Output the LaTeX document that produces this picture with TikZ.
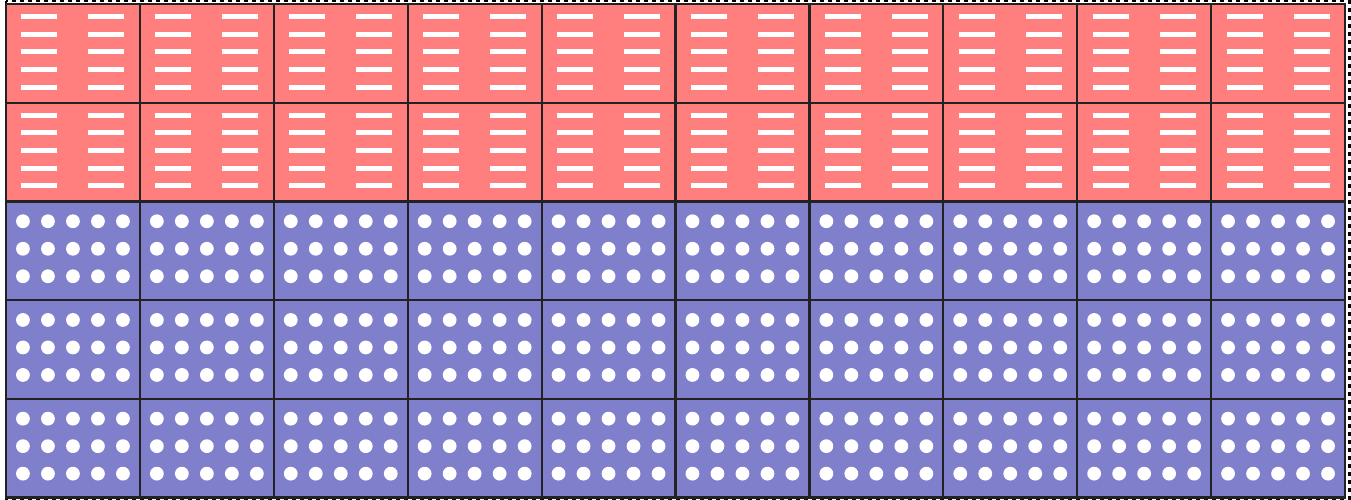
\documentclass[tikz,border=0pt]{standalone}
\usetikzlibrary{positioning}
\definecolor{cellred}{RGB}{255,127,127}
\definecolor{cellblue}{RGB}{127,127,204}
\definecolor{gridline}{RGB}{34,34,34}
\tikzset{
  cellbox/.style={rectangle, draw=gridline, line width=2.2pt, minimum width=133.9pt, minimum height=98.7pt, inner sep=0pt, outer sep=0pt},
  redcell/.style={cellbox, fill=cellred},
  bluecell/.style={cellbox, fill=cellblue},
  bar/.style={fill=white},
  dot/.style={fill=white},
  frame/.style={draw=black, line width=2.5pt, dash pattern=on 4pt off 4pt}
}
\begin{document}
\begin{tikzpicture}[x=1pt,y=-1pt]
\useasboundingbox (0,0) rectangle (1351,500);
\fill[white] (0,0) rectangle (1351,500);
\draw[frame] (6,1) rectangle (1349.3,498.8);
\foreach \c in {0,...,9}{
  \foreach \r in {0,...,4}{
    \pgfmathsetmacro{\cx}{6+133.9*\c+66.95}
    \pgfmathsetmacro{\cy}{4+98.7*\r+49.35}
    \ifnum\r<2
      \node[redcell] (cell-\r-\c) at (\cx,\cy) {};
      \foreach \k in {-2,...,2}{
        \fill[bar] ([xshift=-51.5pt,yshift={-(-1.5+17.6*\k)*1pt+2.5pt}]cell-\r-\c.center) rectangle ++(36,5);
        \fill[bar] ([xshift=15.5pt,yshift={-(-1.5+17.6*\k)*1pt+2.5pt}]cell-\r-\c.center) rectangle ++(36,5);
      }
    \else
      \node[bluecell] (cell-\r-\c) at (\cx,\cy) {};
      \foreach \i in {-2,...,2}{
        \foreach \j in {-1,0,1}{
          \fill[dot] ([xshift={25*\i*1pt},yshift={-(-2+27.5*\j)*1pt}]cell-\r-\c.center) circle[radius=6.9pt];
        }
      }
    \fi
  }
}
\end{tikzpicture}
\end{document}
